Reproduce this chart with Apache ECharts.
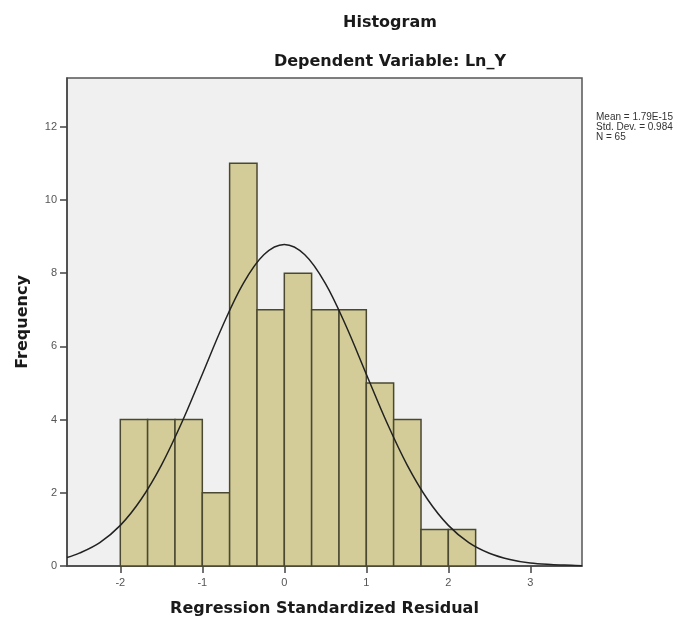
<!DOCTYPE html>
<html>
<head>
<meta charset="utf-8">
<script src="https://cdn.jsdelivr.net/npm/echarts@6/dist/echarts.min.js"></script>
<style>html,body{margin:0;padding:0;background:#fff;}#c{width:697px;height:623px;}</style>
</head>
<body>
<div id="c"></div>
<script>
// Histogram bins (edges) and counts
var binStarts = [-2, -1.667, -1.333, -1, -0.667, -0.333, 0, 0.333, 0.667, 1, 1.333, 1.667, 2];
var binEnds   = [-1.667, -1.333, -1, -0.667, -0.333, 0, 0.333, 0.667, 1, 1.333, 1.667, 2, 2.333];
var counts    = [4, 4, 4, 2, 11, 7, 8, 7, 7, 5, 4, 1, 1];

// Normal curve
var curveX = [-2.65, -2.5, -2.25, -2, -1.75, -1.5, -1.25, -1, -0.75, -0.5, -0.25, 0, 0.25, 0.5, 0.75, 1, 1.25, 1.5, 1.75, 2, 2.25, 2.5, 2.75, 3, 3.25, 3.5, 3.63];
var curveY = [0.23, 0.35, 0.64, 1.11, 1.81, 2.75, 3.92, 5.24, 6.57, 7.72, 8.50, 8.78, 8.50, 7.72, 6.57, 5.24, 3.92, 2.75, 1.81, 1.11, 0.64, 0.35, 0.18, 0.08, 0.04, 0.02, 0.01];

var xTicks = [-2, -1, 0, 1, 2, 3];
var yTicks = [0, 2, 4, 6, 8, 10, 12];

var statsLines = ['Mean = 1.79E-15', 'Std. Dev. = 0.984', 'N = 65'];

var barData = binStarts.map(function (s, i) { return [s, binEnds[i], counts[i]]; });
var curveData = curveX.map(function (x, i) { return [x, curveY[i]]; });

var chart = echarts.init(document.getElementById('c'), null, {renderer: 'canvas'});
var titleFont = '"DejaVu Sans", Verdana, sans-serif';
chart.setOption({
  animation: false,
  backgroundColor: '#ffffff',
  title: [
    {text: 'Histogram', left: 385, top: 10, textAlign: 'center',
     textStyle: {fontFamily: titleFont, fontSize: 16, fontWeight: 'bold', color: '#1a1a1a'}},
    {text: 'Dependent Variable: Ln_Y', left: 385, top: 49, textAlign: 'center',
     textStyle: {fontFamily: titleFont, fontSize: 16, fontWeight: 'bold', color: '#1a1a1a'}},
    {text: statsLines.join('\n'), left: 591, top: 107,
     textStyle: {fontFamily: '"Liberation Sans", Arial, sans-serif', fontSize: 10, fontWeight: 'normal', color: '#333', lineHeight: 10}}
  ],
  grid: {left: 67, top: 78, right: 115, bottom: 57, show: true, backgroundColor: '#f0f0f1', borderColor: '#555', borderWidth: 1.5},
  xAxis: {
    type: 'value', min: -2.65, max: 3.63,
    name: 'Regression Standardized Residual', nameLocation: 'middle', nameGap: 35,
    nameTextStyle: {fontFamily: titleFont, fontSize: 16, fontWeight: 'bold', color: '#1a1a1a'},
    axisLine: {show: true, onZero: false, lineStyle: {color: '#444', width: 1.5}},
    axisTick: {show: true, length: 7, customValues: xTicks, lineStyle: {color: '#444', width: 1.5}},
    axisLabel: {customValues: xTicks, color: '#555', fontSize: 11, fontFamily: '"Liberation Sans", Arial, sans-serif', margin: 11},
    splitLine: {show: false}
  },
  yAxis: {
    type: 'value', min: 0, max: 13.33,
    name: 'Frequency', nameLocation: 'middle', nameGap: 36, nameRotate: 90,
    nameTextStyle: {fontFamily: titleFont, fontSize: 16, fontWeight: 'bold', color: '#1a1a1a'},
    axisLine: {show: true, onZero: false, lineStyle: {color: '#444', width: 1.5}},
    axisTick: {show: true, length: 7, customValues: yTicks, lineStyle: {color: '#444', width: 1.5}},
    axisLabel: {customValues: yTicks, color: '#555', fontSize: 11, fontFamily: '"Liberation Sans", Arial, sans-serif', margin: 10},
    splitLine: {show: false}
  },
  series: [
    {
      type: 'custom',
      data: barData,
      encode: {x: [0, 1], y: 2},
      renderItem: function (params, api) {
        var p0 = api.coord([api.value(0), 0]);
        var p1 = api.coord([api.value(1), api.value(2)]);
        return {
          type: 'rect',
          shape: {x: p0[0], y: p1[1], width: p1[0] - p0[0], height: p0[1] - p1[1]},
          style: {fill: '#d3cc98', stroke: '#4a4830', lineWidth: 1.5}
        };
      },
      z: 2
    },
    {
      type: 'line',
      data: curveData,
      smooth: 0.35,
      showSymbol: false,
      lineStyle: {color: '#222', width: 1.5},
      z: 3
    }
  ]
});
</script>
</body>
</html>
